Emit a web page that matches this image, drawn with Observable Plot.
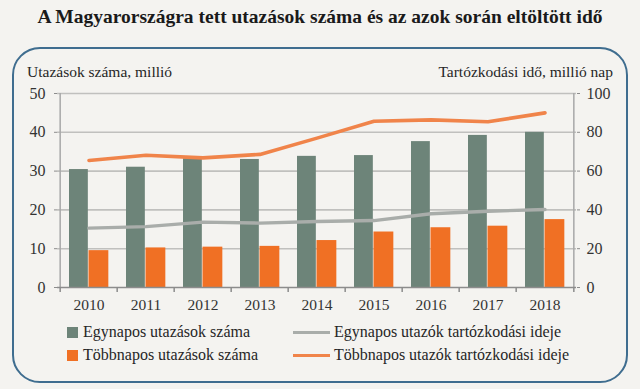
<!DOCTYPE html>
<html>
<head>
<meta charset="utf-8">
<script src="https://cdn.jsdelivr.net/npm/d3@7"></script>
<script src="https://cdn.jsdelivr.net/npm/@observablehq/plot@0.6"></script>
<style>
  body { margin: 0; background: #f4f3f0; }
  #wrap { position: relative; width: 640px; height: 389px; overflow: hidden; font-family: "Liberation Serif", "DejaVu Serif", serif; color: #222; }
  #title { position: absolute; left: 0; width: 640px; top: 6px; text-align: center; font-weight: bold; font-size: 19.5px; color: #1a1a1a; }
  #box { position: absolute; left: 12px; top: 47px; width: 616px; height: 336px; box-sizing: border-box; border: 2px solid #3f6d8f; border-radius: 28px; }
  #chart { position: absolute; left: 0; top: 0; }
  .atitle { position: absolute; top: 63px; font-size: 15.5px; color: #262626; }
  .leg { position: absolute; font-size: 16px; color: #262626; white-space: nowrap; line-height: 20px; }
  .sq { position: absolute; width: 11px; height: 11px; }
  .ln { position: absolute; width: 37px; height: 3px; }
</style>
</head>
<body>
<div id="wrap">
  <div id="box"></div>
  <div id="title">A Magyarországra tett utazások száma és az azok során eltöltött idő</div>
  <div class="atitle" style="left:27px">Utazások száma, millió</div>
  <div class="atitle" style="right:27px">Tartózkodási idő, millió nap</div>
  <div id="chart"></div>
  <div id="legend"></div>
</div>
<script>
const years = ["2010", "2011", "2012", "2013", "2014", "2015", "2016", "2017", "2018"];
const egyTrips = [30.4, 31.0, 33.2, 33.0, 33.8, 34.0, 37.6, 39.2, 40.0];
const tobbTrips = [9.5, 10.2, 10.4, 10.6, 12.1, 14.3, 15.4, 15.8, 17.5];
const egyDays = [30.6, 31.4, 33.7, 33.2, 34.0, 34.5, 38.0, 39.3, 40.2];
const tobbDays = [65.5, 68.2, 66.8, 68.6, 77.0, 85.7, 86.4, 85.4, 90.0];
const leftTicks = [0, 10, 20, 30, 40, 50];
const rightTicks = [0, 20, 40, 60, 80, 100];
const seriesNames = ["Egynapos utazások száma", "Többnapos utazások száma", "Egynapos utazók tartózkodási ideje", "Többnapos utazók tartózkodási ideje"];
const colors = ["#6d8479", "#f07024", "#a9adaa", "#f0844a"];

const tripsData = years.map((y, i) => ({year: y, egy: egyTrips[i], tobb: tobbTrips[i]}));
// right axis (0–100) is shown on the same scale as the left axis (0–50)
const ratio = 2;
const egyLine = years.map((y, i) => ({year: y, v: egyDays[i] / ratio}));
const tobbLine = years.map((y, i) => ({year: y, v: tobbDays[i] / ratio}));

const W = 640, H = 320, mL = 57, mR = 64, mT = 93, mB = 33;
const bw = (W - mL - mR) / years.length;
const font = "Liberation Serif";

const plot = Plot.plot({
  width: W, height: H,
  marginLeft: mL, marginRight: mR, marginTop: mT, marginBottom: mB,
  style: {background: "transparent", fontFamily: font, fontSize: "15px", color: "#333"},
  x: {domain: years, padding: 0, label: null},
  y: {domain: [0, 50], label: null},
  marks: [
    Plot.ruleY(leftTicks.slice(1), {stroke: "#c0c0be", strokeWidth: 1.6}),
    Plot.ruleX([years[0]], {dx: -bw / 2, stroke: "#a8a8a8", strokeWidth: 1.5}),
    Plot.ruleX([years[years.length - 1]], {dx: bw / 2, stroke: "#a8a8a8", strokeWidth: 1.5}),
    Plot.barY(tripsData, {x: "year", y: "egy", fill: colors[0], insetLeft: 9, insetRight: bw - 28.5}),
    Plot.barY(tripsData, {x: "year", y: "tobb", fill: colors[1], insetLeft: 28.5, insetRight: bw - 49}),
    Plot.lineY(egyLine, {x: "year", y: "v", stroke: colors[2], strokeWidth: 3.4}),
    Plot.lineY(tobbLine, {x: "year", y: "v", stroke: colors[3], strokeWidth: 3.6}),
    Plot.ruleY([0], {stroke: "#8c8c8c", strokeWidth: 1.5}),
    Plot.axisY({anchor: "left", ticks: leftTicks, tickSize: 3, tickPadding: 9, label: null, stroke: "#8c8c8c", fontSize: 16, fill: "#333"}),
    Plot.axisY({anchor: "right", ticks: leftTicks, tickSize: 3, tickPadding: 7, label: null, tickFormat: d => String(d * ratio), stroke: "#8c8c8c", fontSize: 16, fill: "#333"}),
    Plot.axisX({anchor: "bottom", tickSize: 0, tickPadding: 11, label: null, fontSize: 15.5, fill: "#333"}),
    Plot.axisX({anchor: "bottom", tickSize: 5, tickFormat: () => "", label: null, dx: -bw / 2, stroke: "#8c8c8c", strokeWidth: 1.5}),
    Plot.axisX({anchor: "bottom", ticks: [years[years.length - 1]], tickSize: 5, tickFormat: () => "", label: null, dx: bw / 2, stroke: "#8c8c8c", strokeWidth: 1.5})
  ]
});
document.getElementById("chart").appendChild(plot);

const legend = document.getElementById("legend");
const legItems = [
  {name: seriesNames[0], color: colors[0], kind: "sq", x: 67, y: 322},
  {name: seriesNames[1], color: colors[1], kind: "sq", x: 67, y: 345},
  {name: seriesNames[2], color: colors[2], kind: "ln", x: 293, y: 322},
  {name: seriesNames[3], color: colors[3], kind: "ln", x: 293, y: 345}
];
for (const it of legItems) {
  const sw = document.createElement("div");
  sw.className = it.kind;
  sw.style.background = it.color;
  sw.style.left = it.x + "px";
  sw.style.top = (it.kind === "sq" ? it.y + 5 : it.y + 9) + "px";
  legend.appendChild(sw);
  const t = document.createElement("div");
  t.className = "leg";
  t.textContent = it.name;
  t.style.left = (it.kind === "sq" ? it.x + 16 : it.x + 41) + "px";
  t.style.top = it.y + "px";
  legend.appendChild(t);
}
</script>
</body>
</html>
